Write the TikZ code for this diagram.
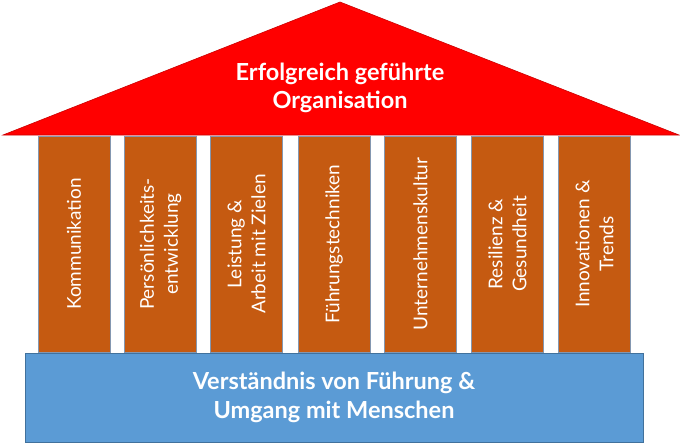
\documentclass[tikz,border=0pt]{standalone}
\usepackage{fontspec}
\setmainfont{Lato}
\definecolor{roofred}{HTML}{FF0000}
\definecolor{pillar}{HTML}{C55A11}
\definecolor{pillaredge}{HTML}{8497B0}
\definecolor{basefill}{HTML}{5B9BD5}
\definecolor{baseedge}{HTML}{41719C}
\begin{document}
\begin{tikzpicture}[x=1pt,y=-1pt,
  pillarbox/.style={draw=pillaredge,line width=0.8pt,fill=pillar,minimum width=72pt,minimum height=216pt,inner sep=0pt},
  pillartext/.style={rotate=90,text=white,align=center,font=\fontsize{19}{24}\selectfont},
  bigtext/.style={text=white,align=center,font=\bfseries\fontsize{23.5}{28.5}\selectfont}]
\useasboundingbox[fill=white] (0,0) rectangle (680,444);
\foreach \i/\cx in {1/74,2/160.5,3/246.5,4/334,5/420.5,6/507.5,7/594.5}{
  \node[pillarbox] (p\i) at (\cx,244) {};
}
\node[pillartext] (t1) at (p1) {Kommunikation};
\node[pillartext] (t2) at (p2) {Persönlichkeits-\\entwicklung};
\node[pillartext] (t3) at (p3) {Leistung \&\\Arbeit mit Zielen};
\node[pillartext] (t4) at (p4) {Führungstechniken};
\node[pillartext] (t5) at (p5) {Unternehmenskultur};
\node[pillartext] (t6) at (p6) {Resilienz \&\\Gesundheit};
\node[pillartext] (t7) at (p7) {Innovationen \&\\Trends};
\coordinate (rl) at (3,135);
\coordinate (ra) at (340,2);
\coordinate (rr) at (679,135);
\fill[roofred,draw=roofred!80!black,line width=0.6pt] (rl) -- (ra) -- (rr) -- cycle;
\node[bigtext] (roof) at (340,88) {Erfolgreich geführte\\Organisation};
\node[draw=baseedge,line width=0.8pt,fill=basefill,minimum width=618pt,minimum height=89pt,inner sep=0pt] (base) at (334,397.5) {};
\node[bigtext] (basetext) at (base) {Verständnis von Führung \&\\Umgang mit Menschen};
\end{tikzpicture}
\end{document}
